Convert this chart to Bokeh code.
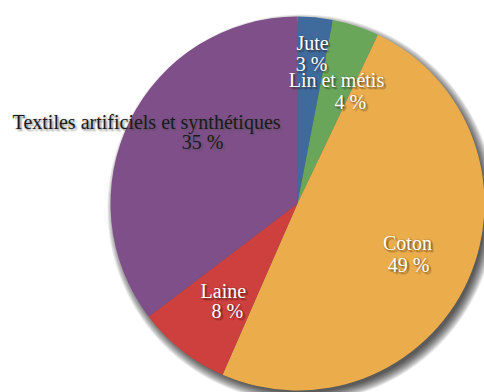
import numpy as np
from bokeh.plotting import figure
from bokeh.models import Range1d, ColumnDataSource
from bokeh.embed import file_html
from bokeh.resources import INLINE
from bokeh.core.properties import value

# ---- data ----
categories = ["Jute", "Lin et métis", "Coton", "Laine", "Textiles artificiels et synthétiques"]
shares = [3, 4, 49, 8, 35]
pct_labels = ["3 %", "4 %", "49 %", "8 %", "35 %"]
colors = ["#3f6a9c", "#69a65a", "#ebad4b", "#cd403e", "#7f4f89"]

# ---- layout / style ----
W, H = 484, 392
cx, cy, R = 297, H - 203, 187
label_r = 0.65
text_colors = ["white", "white", "white", "white", "#1a1a1a"]
shadow_colors = ["#2a1a10", "#2a1a10", "#3a2008", "#3a0a08", "#555555"]
# per-line pixel nudges (screen px, y down) relative to the slice anchor
name_dx = [3.5, 1, -0.6, 1, -42]
name_dy = [-40, -7.6, -11.4, -8.5, -28]
pct_dx = [2.5, 15, 0.4, 5, 14]
pct_dy = [-19, 14.4, 10.6, 11.5, -8]

frac = np.array(shares, dtype=float) / sum(shares)
cum = np.concatenate([[0.0], np.cumsum(frac)])
start = np.pi / 2 - 2 * np.pi * cum[:-1]
end = np.pi / 2 - 2 * np.pi * cum[1:]
mid = np.pi / 2 - 2 * np.pi * (cum[:-1] + frac / 2)
ax = cx + label_r * R * np.cos(mid)
ay = cy + label_r * R * np.sin(mid)

p = figure(width=W, height=H, x_range=Range1d(0, W), y_range=Range1d(0, H),
           output_backend="svg", toolbar_location=None,
           x_axis_location=None, y_axis_location=None, min_border=0)
p.grid.visible = False
p.outline_line_color = None
p.background_fill_color = "white"

# drop shadow (layered soft circles)
for k in range(11):
    p.circle(x=cx + 4, y=cy - 5, radius=R - 3 + k, fill_color="black",
             fill_alpha=0.085, line_color=None)

src = ColumnDataSource(dict(start=start, end=end, color=colors, cat=categories))
p.wedge(x=cx, y=cy, radius=R, start_angle="start", end_angle="end",
        direction="clock", fill_color="color", line_color=None, source=src)

lines_x, lines_y, lines_t, lines_c, lines_s = [], [], [], [], []
for i in range(len(categories)):
    lines_x += [ax[i] + name_dx[i], ax[i] + pct_dx[i]]
    lines_y += [ay[i] - name_dy[i], ay[i] - pct_dy[i]]
    lines_t += [categories[i], pct_labels[i]]
    lines_c += [text_colors[i]] * 2
    lines_s += [shadow_colors[i]] * 2

font = value("Liberation Serif")
offsets = [(1, 1), (2, 2), (0, 2), (2, 0), (-1, 1), (1, -1), (3, 2), (2, 3)]
for (ox, oy) in offsets:
    sh = ColumnDataSource(dict(x=[v + ox for v in lines_x], y=[v - oy for v in lines_y],
                               t=lines_t, c=lines_s))
    p.text(x="x", y="y", text="t", text_color="c", text_alpha=0.13, source=sh,
           text_font=font, text_font_size="20px", text_align="center",
           text_baseline="middle")

ts = ColumnDataSource(dict(x=lines_x, y=lines_y, t=lines_t, c=lines_c))
p.text(x="x", y="y", text="t", text_color="c", source=ts,
       text_font=font, text_font_size="20px", text_align="center",
       text_baseline="middle")

open("out.html", "w").write(file_html(p, INLINE))
